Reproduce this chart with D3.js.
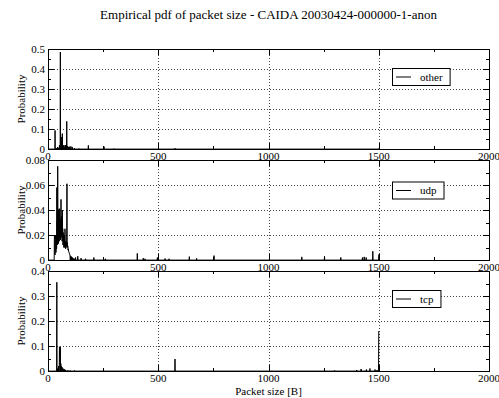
<!DOCTYPE html>
<html>
<head>
<meta charset="utf-8">
<script src="https://cdn.jsdelivr.net/npm/d3@7/dist/d3.min.js"></script>
<style>
	body { margin: 0; background: #fff; }
</style>
</head>
<body>
<svg id="chart" width="499" height="398" font-family="'Liberation Serif', 'Times New Roman', 'DejaVu Serif', serif"></svg>
<script>
// packet size pdf, [size in bytes, probability]; zero everywhere else
const otherPdf = [
	[32, 0.093], [40, 0.005], [44, 0.01], [48, 0.004], [52, 0.02], [56, 0.485],
	[60, 0.008], [62, 0.06], [65, 0.077], [68, 0.01], [70, 0.015], [72, 0.02],
	[76, 0.012], [80, 0.02], [85, 0.138], [88, 0.015], [92, 0.01], [96, 0.012],
	[100, 0.008], [104, 0.013], [110, 0.01], [120, 0.004], [140, 0.002],
	[183, 0.018], [254, 0.012], [300, 0.002], [576, 0.004], [1500, 0.003]
];
const udpPdf = [
	[29, 0.02], [30, 0.019], [31, 0.02], [32, 0.004], [33, 0.02], [34, 0.017],
	[35, 0.02], [36, 0.006], [37, 0.012], [38, 0.02], [39, 0.009], [40, 0.058],
	[41, 0.015], [42, 0.03], [43, 0.012], [44, 0.075], [45, 0.02], [46, 0.035],
	[47, 0.013], [48, 0.04], [49, 0.018], [50, 0.041], [51, 0.015], [52, 0.03],
	[53, 0.041], [54, 0.02], [55, 0.033], [56, 0.016], [57, 0.028], [58, 0.02],
	[59, 0.0485], [60, 0.018], [61, 0.035], [62, 0.022], [63, 0.03], [64, 0.015],
	[65, 0.04], [66, 0.02], [67, 0.025], [68, 0.012], [69, 0.022], [70, 0.015],
	[71, 0.018], [72, 0.01], [73, 0.02], [74, 0.012], [75, 0.016], [76, 0.01],
	[77, 0.025], [78, 0.012], [79, 0.015], [80, 0.009], [81, 0.014], [82, 0.01],
	[83, 0.013], [84, 0.011], [85, 0.02], [86, 0.061], [87, 0.012], [88, 0.014],
	[89, 0.01], [90, 0.011], [91, 0.008], [92, 0.009], [93, 0.007], [94, 0.007],
	[95, 0.006], [96, 0.006], [97, 0.005], [98, 0.005], [99, 0.004], [100, 0.004],
	[102, 0.003], [104, 0.003], [106, 0.0025], [108, 0.002], [110, 0.002],
	[113, 0.0015], [116, 0.001], [120, 0.001], [125, 0.002], [135, 0.003],
	[150, 0.0015], [170, 0.001], [208, 0.002], [260, 0.001], [405, 0.0053],
	[432, 0.0015], [440, 0.001], [496, 0.002], [531, 0.0012], [549, 0.001],
	[641, 0.0027], [674, 0.0013], [753, 0.0035], [1151, 0.0025], [1254, 0.003],
	[1328, 0.002], [1426, 0.002], [1434, 0.0025], [1443, 0.002], [1473, 0.007],
	[1500, 0.0045]
];
const tcpPdf = [
	[40, 0.355], [44, 0.01], [48, 0.02], [52, 0.097], [53, 0.06], [54, 0.09],
	[56, 0.095], [58, 0.03], [60, 0.02], [64, 0.015], [68, 0.01], [72, 0.008],
	[76, 0.006], [80, 0.004], [90, 0.003], [100, 0.002], [120, 0.002],
	[576, 0.048], [1300, 0.002], [1400, 0.004], [1420, 0.008], [1444, 0.006],
	[1460, 0.01], [1483, 0.006], [1492, 0.004], [1500, 0.16]
];

const seriesNames = ['other', 'udp', 'tcp'];
const seriesData = [otherPdf, udpPdf, tcpPdf];
const yMax = [0.5, 0.08, 0.4];
const yMajor = [0.1, 0.02, 0.1];
const yMinor = [0.05, 0.01, 0.05];
const xTicks = [0, 500, 1000, 1500, 2000];
const xMinor = [250, 750, 1250, 1750];
const maxSize = 1500;

const titleText = 'Empirical pdf of packet size - CAIDA 20030424-000000-1-anon';

let svg = d3.select('#chart'),
	left = 48,
	right = 489,
	panelTop = [49, 160, 271],
	panelH = 100,
	legendDy = [19, 21.5, 19];

let x = d3.scaleLinear().domain([0, 2000]).range([left, right]);

svg.append('text')
	.attr('x', (left + right) / 2)
	.attr('y', 19)
	.attr('text-anchor', 'middle')
	.attr('font-size', 13)
	.text(titleText);

let fmt = v => (v === 0 ? '0' : d3.format('~g')(+v.toFixed(3)));

seriesNames.forEach((name, k) => {
	let top = panelTop[k],
		bottom = top + panelH,
		y = d3.scaleLinear().domain([0, yMax[k]]).range([bottom, top]),
		g = svg.append('g');

	let majors = d3.range(0, yMax[k] + 1e-9, yMajor[k]),
		minors = d3.range(yMinor[k], yMax[k], yMajor[k]);

	// dotted grid
	let grid = g.append('g')
		.attr('stroke', '#444')
		.attr('stroke-width', 1)
		.attr('stroke-dasharray', '1,2');
	majors.slice(1, -1).forEach(v => {
		grid.append('line')
			.attr('x1', left).attr('x2', right)
			.attr('y1', Math.round(y(v)) + 0.5).attr('y2', Math.round(y(v)) + 0.5);
	});
	xTicks.slice(1, -1).forEach(v => {
		grid.append('line')
			.attr('x1', Math.round(x(v)) + 0.5).attr('x2', Math.round(x(v)) + 0.5)
			.attr('y1', top).attr('y2', bottom);
	});

	// pdf line, every byte from 0 to maxSize
	let lookup = new Map(seriesData[k]);
	let full = d3.range(0, maxSize + 1).map(s => [s, lookup.get(s) || 0]);
	let line = d3.line()
		.x(d => x(d[0]))
		.y(d => y(d[1]));
	g.append('path')
		.datum(full)
		.attr('fill', 'none')
		.attr('stroke', '#000')
		.attr('stroke-width', 1)
		.attr('d', line);

	// ticks, inward on all four sides
	let ticks = g.append('g').attr('stroke', '#000').attr('stroke-width', 1);
	majors.forEach(v => {
		let yy = Math.round(y(v)) + 0.5;
		ticks.append('line').attr('x1', left).attr('x2', left + 6).attr('y1', yy).attr('y2', yy);
		ticks.append('line').attr('x1', right).attr('x2', right - 6).attr('y1', yy).attr('y2', yy);
	});
	minors.forEach(v => {
		let yy = Math.round(y(v)) + 0.5;
		ticks.append('line').attr('x1', left).attr('x2', left + 3).attr('y1', yy).attr('y2', yy);
		ticks.append('line').attr('x1', right).attr('x2', right - 3).attr('y1', yy).attr('y2', yy);
	});
	xTicks.forEach(v => {
		let xx = Math.round(x(v)) + 0.5;
		ticks.append('line').attr('x1', xx).attr('x2', xx).attr('y1', top).attr('y2', top + 6);
		ticks.append('line').attr('x1', xx).attr('x2', xx).attr('y1', bottom).attr('y2', bottom - 6);
	});
	xMinor.forEach(v => {
		let xx = Math.round(x(v)) + 0.5;
		ticks.append('line').attr('x1', xx).attr('x2', xx).attr('y1', top).attr('y2', top + 3);
		ticks.append('line').attr('x1', xx).attr('x2', xx).attr('y1', bottom).attr('y2', bottom - 3);
	});

	// frame
	g.append('rect')
		.attr('x', left + 0.5).attr('y', top + 0.5)
		.attr('width', right - left).attr('height', panelH)
		.attr('fill', 'none')
		.attr('stroke', '#000')
		.attr('stroke-width', 1);

	// tick labels
	majors.forEach(v => {
		g.append('text')
			.attr('x', left - 3)
			.attr('y', y(v) + 4)
			.attr('text-anchor', 'end')
			.attr('font-size', 11)
			.text(fmt(v));
	});
	xTicks.forEach(v => {
		g.append('text')
			.attr('x', x(v))
			.attr('y', bottom + 11)
			.attr('text-anchor', 'middle')
			.attr('font-size', 11)
			.text(v);
	});

	g.append('text')
		.attr('transform', `translate(25, ${top + panelH / 2}) rotate(-90)`)
		.attr('text-anchor', 'middle')
		.attr('font-size', 11)
		.text('Probability');

	// legend
	let ly = top + legendDy[k],
		lg = g.append('g');
	let box = lg.append('rect')
		.attr('x', 392.5).attr('y', ly + 0.5)
		.attr('height', 17)
		.attr('fill', '#fff')
		.attr('stroke', '#000')
		.attr('stroke-width', 1);
	lg.append('line')
		.attr('x1', 396).attr('x2', 411)
		.attr('y1', ly + 9).attr('y2', ly + 9)
		.attr('stroke', '#000').attr('stroke-width', 1);
	let lt = lg.append('text')
		.attr('x', 420)
		.attr('y', ly + 12.5)
		.attr('font-size', 11)
		.text(name);
	box.attr('width', 420 + lt.node().getComputedTextLength() + 7 - 392);
});

svg.append('text')
	.attr('x', (left + right) / 2)
	.attr('y', 395)
	.attr('text-anchor', 'middle')
	.attr('font-size', 11)
	.text('Packet size [B]');
</script>
</body>
</html>
